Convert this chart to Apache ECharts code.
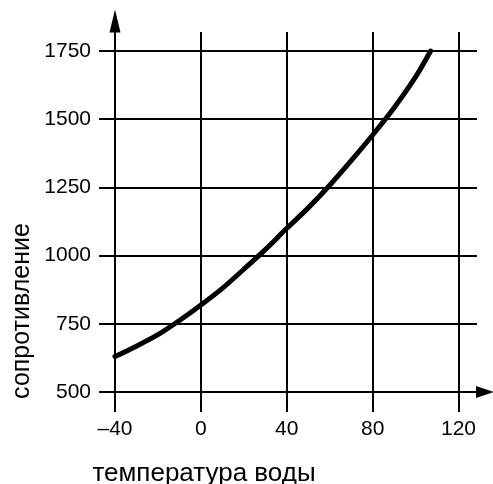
<!DOCTYPE html>
<html>
<head>
<meta charset="utf-8">
<script src="https://cdn.jsdelivr.net/npm/echarts@6/dist/echarts.min.js"></script>
<style>
html,body{margin:0;padding:0;background:#fff;}
#chart{width:493px;height:484px;}
</style>
</head>
<body>
<div id="chart"></div>
<script>
var temps = [-40, -30, -20, -10, 0, 10, 20, 30, 40, 50, 60, 70, 80, 90, 100, 107];
var resistance = [630, 668, 710, 762, 819, 880, 950, 1022, 1100, 1175, 1258, 1348, 1442, 1542, 1655, 1750];
var xTicks = [-40, 0, 40, 80, 120];
var yTicks = [500, 750, 1000, 1250, 1500, 1750];
var xName = 'температура воды';
var yName = 'сопротивление';

var FONT = '"Liberation Sans", Arial, Helvetica, sans-serif';
var chart = echarts.init(document.getElementById('chart'), null, {renderer: 'canvas'});
var pts = temps.map(function (t, i) { return [t, resistance[i]]; });

chart.setOption({
  backgroundColor: '#fff',
  animation: false,
  grid: {left: 115, right: 16, top: 32, bottom: 92, containLabel: false},
  xAxis: {
    type: 'value', min: -40, max: 128.6, interval: 40,
    axisLine: {show: true, onZero: false, symbol: ['none', 'triangle'], symbolSize: [12, 18], symbolOffset: [0, 8],
      lineStyle: {color: '#000', width: 2}},
    axisTick: {show: true, length: 20, inside: false, customValues: xTicks, lineStyle: {color: '#000', width: 2}},
    axisLabel: {show: true, customValues: xTicks, margin: 27, color: '#000', fontSize: 21, fontFamily: FONT,
      formatter: function (v) { return String(v).replace('-', '\u2013'); }},
    splitLine: {show: true, lineStyle: {color: '#000', width: 2}}
  },
  yAxis: {
    type: 'value', min: 500, max: 1819.7, interval: 250,
    axisLine: {show: true, onZero: false, symbol: ['none', 'triangle'], symbolSize: [11, 23], symbolOffset: [0, 11],
      lineStyle: {color: '#000', width: 2}},
    axisTick: {show: true, length: 16, inside: false, customValues: yTicks, lineStyle: {color: '#000', width: 2}},
    axisLabel: {show: true, customValues: yTicks, margin: 24, color: '#000', fontSize: 21, fontFamily: FONT,
      formatter: function (v) { return String(v); }},
    splitLine: {show: true, lineStyle: {color: '#000', width: 2}}
  },
  graphic: [
    {type: 'text', x: 204, y: 474, style: {text: xName, fill: '#000', font: '26px ' + FONT,
      textAlign: 'center', textVerticalAlign: 'middle', align: 'center', verticalAlign: 'middle'}},
    {type: 'text', x: 22, y: 311, rotation: Math.PI / 2, style: {text: yName, fill: '#000', font: '25px ' + FONT,
      textAlign: 'center', textVerticalAlign: 'middle', align: 'center', verticalAlign: 'middle'}}
  ],
  series: [{
    type: 'line', data: pts, smooth: 0.3, showSymbol: false, symbol: 'none',
    lineStyle: {color: '#000', width: 5, cap: 'round', join: 'round'}, z: 5
  }]
});
</script>
</body>
</html>
